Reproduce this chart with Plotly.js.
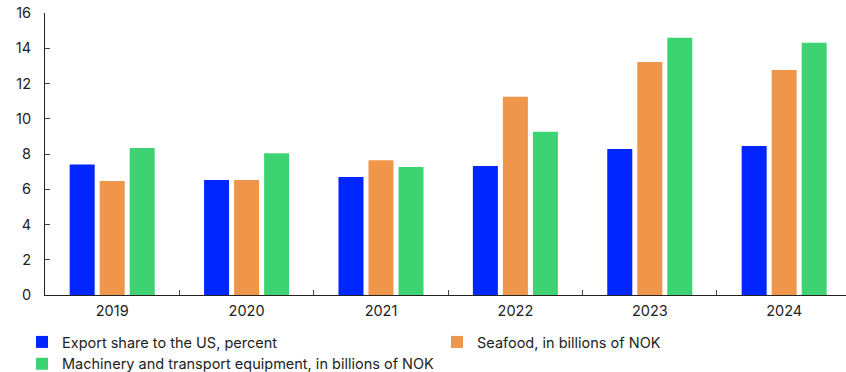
<!DOCTYPE html>
<html>
<head>
<meta charset="utf-8">
<script src="https://cdn.plot.ly/plotly-3.0.1.min.js"></script>
<style>html,body{margin:0;padding:0;background:#fff;}#chart{width:846px;height:372px;}</style>
</head>
<body>
<div id="chart"></div>
<script>
const years = ['2019', '2020', '2021', '2022', '2023', '2024'];
const exportShare = [7.41, 6.52, 6.69, 7.32, 8.28, 8.45];
const seafood = [6.47, 6.52, 7.64, 11.25, 13.22, 12.76];
const machinery = [8.34, 8.04, 7.26, 9.26, 14.6, 14.31];
const seriesNames = ['Export share to the US, percent', 'Seafood, in billions of NOK', 'Machinery and transport equipment, in billions of NOK'];
const yTicks = [0, 2, 4, 6, 8, 10, 12, 14, 16];

const colors = ['#0026ff', '#ef964b', '#3dd373'];
const values = [exportShare, seafood, machinery];
const traces = values.map((v, i) => ({
  type: 'bar', x: years, y: v, name: seriesNames[i],
  marker: {color: colors[i], line: {width: 0}},
  hoverinfo: 'skip'
}));

const font = {family: 'Inter, "Noto Sans", sans-serif', size: 14.5, color: '#222'};
const layout = {
  width: 846, height: 372,
  margin: {l: 45, r: 0, t: 13, b: 77, pad: 0, autoexpand: false},
  paper_bgcolor: '#fff', plot_bgcolor: '#fff',
  font: font,
  barmode: 'group', bargap: 0.33, bargroupgap: 0.167,
  showlegend: true,
  legend: {
    orientation: 'h', xref: 'paper', x: -23 / 801, xanchor: 'left',
    yref: 'paper', y: -31 / 282, yanchor: 'top',
    entrywidth: 370, entrywidthmode: 'pixels', font: font, itemwidth: 30,
    tracegroupgap: 0, traceorder: 'normal', borderwidth: 0, bgcolor: 'rgba(0,0,0,0)'
  },
  xaxis: {
    type: 'category', range: [-0.5, 5.46], showgrid: false, zeroline: false,
    showline: true, linecolor: '#222', linewidth: 1,
    ticks: 'inside', ticklen: 5, tickcolor: '#444', tickson: 'boundaries',
    ticklabelstandoff: 3, tickfont: font, fixedrange: true
  },
  yaxis: {
    range: [0, 16], tickvals: yTicks, ticktext: yTicks.map(String),
    showgrid: false, zeroline: false,
    showline: true, linecolor: '#222', linewidth: 1,
    ticks: 'inside', ticklen: 5, tickcolor: '#444',
    ticklabelstandoff: 10, tickfont: font, fixedrange: true
  }
};
Plotly.newPlot('chart', traces, layout, {displayModeBar: false, staticPlot: true});
</script>
</body>
</html>
